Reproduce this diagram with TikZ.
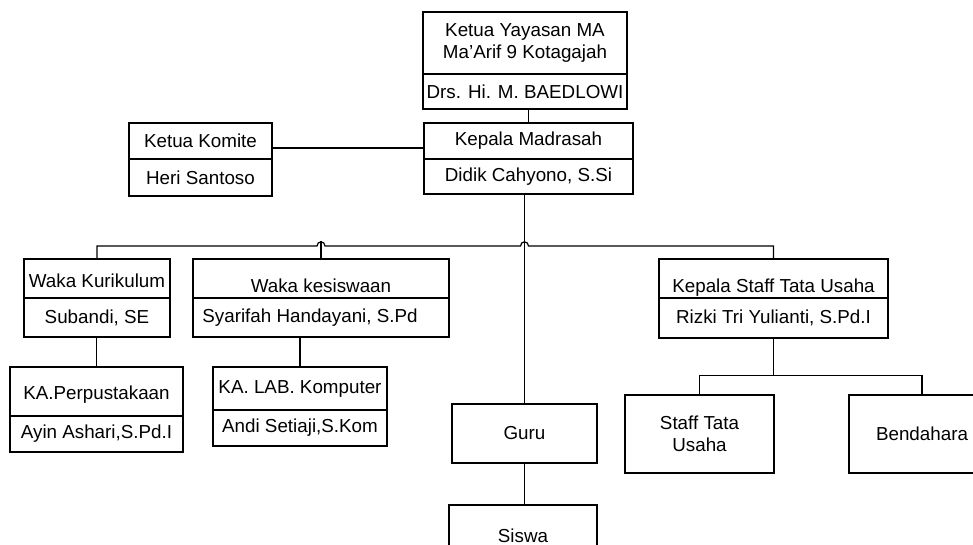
\documentclass[tikz,border=0pt]{standalone}
\usepackage{fontspec}
\setmainfont{Liberation Sans}
\begin{document}
\begin{tikzpicture}[x=1pt,y=-1pt,line width=1.2pt,
  box/.style={draw, rectangle, inner sep=0pt, align=center, font=\fontsize{18.8}{22}\selectfont}]
\useasboundingbox (0,0) rectangle (973,545);
\clip (0,0) rectangle (973,545);
% top
\node[box, minimum width=204pt, minimum height=62pt] (yt) at (525,43) {Ketua Yayasan MA\\Ma’Arif 9 Kotagajah};
\node[box, minimum width=204pt, minimum height=35pt] (yn) at (525,91.5) {Drs. Hi. M. BAEDLOWI};
\node[box, minimum width=209pt, minimum height=36pt] (kmt) at (528.5,141) {Kepala Madrasah};
\node[box, minimum width=209pt, minimum height=35pt] (kmn) at (528.5,176.5) {Didik Cahyono, S.Si};
\node[box, minimum width=143pt, minimum height=36pt] (kkt) at (200.5,141) {Ketua Komite};
\node[box, minimum width=143pt, minimum height=37pt] (kkn) at (200.5,177.5) {Heri Santoso};
% second row
\node[box, minimum width=146pt, minimum height=39pt] (wkt) at (97,278.5) {\raisebox{-9pt}[0pt][0pt]{Waka Kurikulum}};
\node[box, minimum width=146pt, minimum height=39pt] (wkn) at (97,317.5) {Subandi, SE};
\node[box, minimum width=256pt, minimum height=39pt] (wst) at (321,278.5) {\raisebox{-14pt}[0pt][0pt]{Waka kesiswaan}};
\node[box, minimum width=256pt, minimum height=39pt] (wsn) at (321,317.5) {\hspace*{-22pt}Syarifah Handayani, S.Pd};
\node[box, minimum width=229pt, minimum height=39pt] (kst) at (773.5,278.5) {\raisebox{-14pt}[0pt][0pt]{Kepala Staff Tata Usaha}};
\node[box, minimum width=229pt, minimum height=40pt] (ksn) at (773.5,318) {Rizki Tri Yulianti, S.Pd.I};
% third row
\node[box, minimum width=173pt, minimum height=49pt] (kpt) at (96.5,391.5) {\raisebox{-8pt}[0pt][0pt]{KA.Perpustakaan}};
\node[box, minimum width=173pt, minimum height=36pt] (kpn) at (96.5,434) {Ayin Ashari,S.Pd.I};
\node[box, minimum width=174pt, minimum height=43pt] (klt) at (300,388.5) {KA. LAB. Komputer};
\node[box, minimum width=174pt, minimum height=36pt] (kln) at (300,428) {Andi Setiaji,S.Kom};
\node[box, minimum width=145pt, minimum height=59pt] (guru) at (524.5,433.5) {Guru};
\node[box, minimum width=148pt, minimum height=80pt] (siswa) at (523,545) {\raisebox{18pt}{Siswa}};
\node[box, minimum width=149pt, minimum height=78pt] (stu) at (699.5,434) {Staff Tata\\Usaha};
\node[box, minimum width=146pt, minimum height=78pt] (bend) at (922,434) {Bendahara};
% connectors
\draw (kmt.north) -- (kmt.north |- yn.south);
\draw ([yshift=-7pt]kkt.east) -- ([yshift=-7pt]kkt.east -| kmt.west);
\draw (guru.north |- kmn.south) -- (guru.north);
\draw (wkt.north) |- (317,246) .. controls (317,240.5) and (325,240.5) .. (325,246)
  -- (520.5,246) .. controls (520.5,240.5) and (528.5,240.5) .. (528.5,246) -| (kst.north);
\draw (wst.north) -- ++(0,-17);
\draw (kpt.north |- wkn.south) -- (kpt.north);
\draw (klt.north |- wsn.south) -- (klt.north);
\path (ksn.south) ++(0,37) coordinate (j);
\draw (ksn.south) -- (j);
\draw (stu.north) |- (j) -| (bend.north);
\draw (guru.south) -- (guru.south |- siswa.north);
\end{tikzpicture}
\end{document}
